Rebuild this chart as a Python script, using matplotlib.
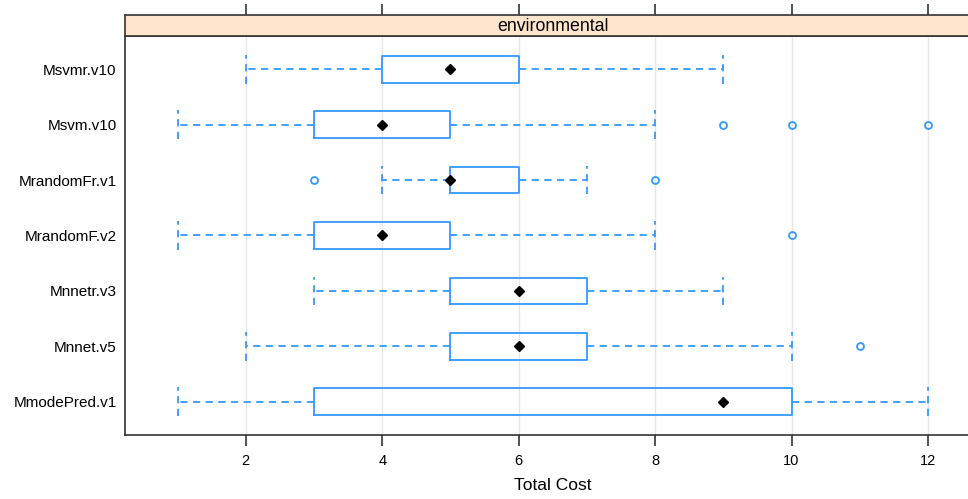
import matplotlib
matplotlib.use("Agg")
import matplotlib.pyplot as plt

plt.rcParams['font.family'] = ['Liberation Sans', 'DejaVu Sans']

# data (bottom to top)
models = ["MmodePred.v1", "Mnnet.v5", "Mnnetr.v3", "MrandomF.v2",
          "MrandomFr.v1", "Msvm.v10", "Msvmr.v10"]
whislo = [1, 2, 3, 1, 4, 1, 2]
q1     = [3, 5, 5, 3, 5, 3, 4]
med    = [9, 6, 6, 4, 5, 4, 5]
q3     = [10, 7, 7, 5, 6, 5, 6]
whishi = [12, 10, 9, 8, 7, 8, 9]
fliers = [[], [11], [], [10], [3, 8], [9, 10, 12], []]
xticks = [2, 4, 6, 8, 10, 12]
strip_label = "environmental"
xlabel = "Total Cost"

blue = "#3399ff"
W, H = 968, 499
fig = plt.figure(figsize=(W / 100, H / 100), dpi=100)

left, right = 125 / W, 980.5 / W
ptop, pbot = 36 / H, 435 / H
stop = 15 / H
ax = fig.add_axes([left, 1 - pbot, right - left, pbot - ptop])
sax = fig.add_axes([left, 1 - ptop, right - left, ptop - stop])

stats = []
for i in range(len(models)):
    stats.append(dict(med=med[i], q1=q1[i], q3=q3[i], whislo=whislo[i],
                      whishi=whishi[i], fliers=fliers[i], label=models[i]))
pos = list(range(1, len(models) + 1))
ax.bxp(stats, positions=pos, vert=False, widths=0.48, capwidths=0.52,
       showfliers=True,
       boxprops=dict(color=blue, linewidth=1.3),
       whiskerprops=dict(color=blue, linewidth=1.3, linestyle=(0, (4, 3))),
       capprops=dict(color=blue, linewidth=1.3, linestyle=(0, (4, 3))),
       medianprops=dict(linewidth=0),
       flierprops=dict(marker='o', markersize=5, markerfacecolor='none',
                       markeredgecolor=blue, markeredgewidth=1.3),
       zorder=3)
ax.plot(med, pos, 'D', color='black', markersize=5.5, zorder=4)

ax.set_xlim(0.23, 12.77)
ax.set_ylim(0.4, len(models) + 0.6)
ax.set_xticks(xticks)
ax.set_xticklabels([str(t) for t in xticks], fontsize=10.5)
ax.set_yticks(pos)
ax.set_yticklabels(models, fontsize=11)
ax.tick_params(axis='y', length=0, pad=6)
ax.tick_params(axis='x', length=8, width=1.2, pad=6, color='#333333')
ax.grid(axis='x', color='#e6e6e6', linewidth=1, zorder=0)
ax.set_axisbelow(True)
for s in ax.spines.values():
    s.set_color('#333333')
    s.set_linewidth(1.2)
ax.set_xlabel(xlabel, fontsize=12.5, labelpad=7)

sax.set_xlim(ax.get_xlim())
sax.set_ylim(0, 1)
sax.set_facecolor('#ffe5cc')
sax.set_xticks(xticks)
sax.tick_params(axis='x', top=True, bottom=False, labeltop=False,
                labelbottom=False, length=8, width=1.2, color='#333333')
sax.set_yticks([])
for s in sax.spines.values():
    s.set_color('#333333')
    s.set_linewidth(1.2)
sax.text(6.5, 0.45, strip_label, ha='center', va='center', fontsize=12.8)

fig.savefig("out.png", dpi=100)
